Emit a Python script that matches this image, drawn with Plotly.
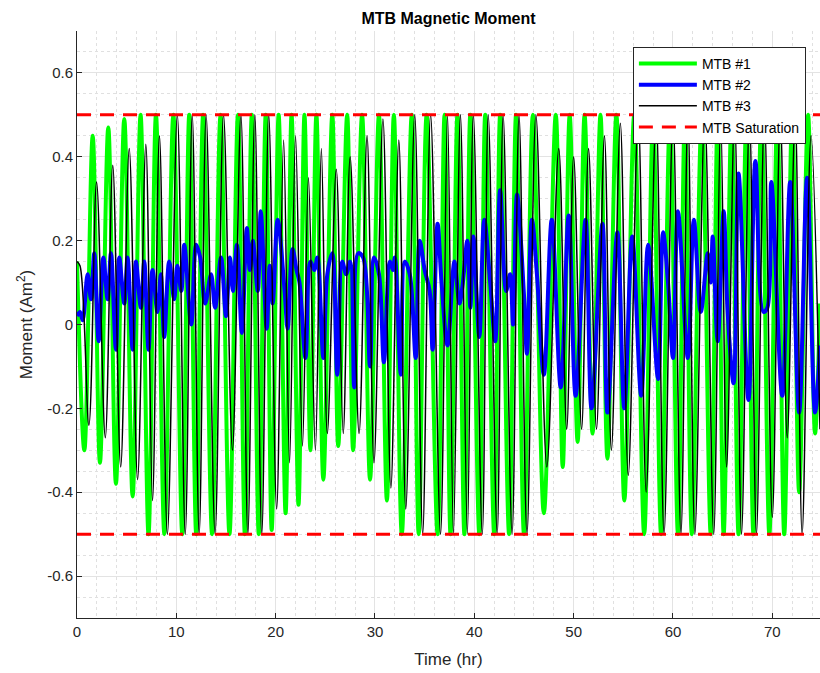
import plotly.graph_objects as go

# ---------------- data ----------------
green_t = [0.0, 0.74, 1.58, 2.31, 3.15, 3.92, 4.76, 5.6, 6.4, 7.2, 7.95, 8.8, 9.7, 10.6, 11.3,
           12.0, 12.7, 13.6, 14.45, 15.35, 16.2, 16.9, 17.6, 18.3, 19.0, 19.6, 20.3, 21.0, 21.6,
           22.3, 22.9, 23.5, 24.1, 24.8, 25.7, 26.3, 27.2, 27.8, 28.7, 29.5, 30.4, 31.2, 31.9, 32.7,
           33.7, 34.4, 35.2, 36.3, 37.0, 37.6, 38.3, 39.0, 39.6, 40.5, 41.1, 42.0, 42.6, 43.5, 44.2,
           45.0, 45.9, 47.0, 48.2, 48.9, 49.6, 50.4, 51.1, 51.9, 52.7, 53.4, 54.3, 55.1, 56.1, 57.1,
           58.0, 58.8, 59.7, 60.5, 61.2, 61.9, 62.9, 63.8, 64.5, 65.1, 65.9, 66.6, 67.4, 68.1, 68.9,
           69.7, 70.5, 71.2, 72.0, 72.7, 73.6, 74.3, 74.8]
green_m = [0.15, -0.30, 0.45, -0.33, 0.47, -0.38, 0.49, -0.41, 0.50, -0.50, 0.50, -0.50, 0.50,
           -0.50, 0.50, -0.50, 0.50, -0.50, 0.50, -0.50, 0.50, -0.50, 0.50, -0.50, 0.50, -0.49,
           0.50, -0.45, 0.50, -0.43, 0.50, -0.30, 0.50, -0.37, 0.50, -0.29, 0.50, -0.30, 0.50, -0.37,
           0.50, -0.42, 0.50, -0.50, 0.50, -0.50, 0.50, -0.50, 0.50, -0.50, 0.50, -0.50, 0.50, -0.50,
           0.50, -0.50, 0.50, -0.50, 0.50, -0.50, 0.50, -0.45, 0.50, -0.34, 0.50, -0.28, 0.50, -0.26,
           0.50, -0.32, 0.50, -0.42, 0.50, -0.50, 0.50, -0.50, 0.50, -0.50, 0.50, -0.50, 0.50, -0.50,
           0.50, -0.50, 0.50, -0.50, 0.50, -0.50, 0.50, -0.50, 0.50, -0.50, 0.50, -0.40, 0.50, -0.26,
           0.05]

blue_t = [0.0, 0.3, 0.57, 1.07, 1.41, 1.74, 2.18, 2.65, 3.08, 3.42, 3.92, 4.25, 4.76, 5.09, 5.6, 5.93,
          6.43, 6.77, 7.2, 7.6, 8.1, 8.44, 8.78, 9.28, 9.78, 10.1, 10.5, 10.8, 11.5, 12.0, 12.4, 12.9,
          13.5, 13.9, 14.5, 15.0, 15.4, 15.7, 16.1, 16.6, 17.1, 17.4, 17.7, 18.2, 18.5, 19.1, 19.4,
          19.7, 20.2, 20.9, 21.2, 21.7, 22.1, 22.4, 23.0, 23.5, 23.9, 24.2, 24.8, 25.2, 25.7, 26.2,
          26.7, 27.1, 27.5, 27.9, 28.3, 28.8, 29.5, 29.9, 30.4, 30.9, 31.5, 31.8, 32.0, 32.6, 33.0,
          33.5, 34.1, 34.5, 35.0, 35.5, 35.8, 36.3, 36.7, 37.3, 38.0, 38.5, 38.8, 39.3, 39.6, 39.9,
          40.5, 41.0, 41.6, 42.1, 42.6, 43.2, 43.6, 43.9, 44.3, 45.0, 45.3, 45.8, 46.3, 47.0, 47.8,
          48.7, 49.5, 50.2, 51.2, 51.8, 52.9, 53.4, 54.4, 55.1, 55.9, 56.8, 57.5, 58.5, 59.0, 59.5,
          60.0, 60.5, 61.5, 62.1, 62.8, 63.5, 63.8, 64.0, 64.5, 65.1, 65.5, 66.1, 66.6, 67.6, 68.3,
          69.1, 69.5, 69.9, 71.0, 71.8, 72.7, 73.5, 74.3, 74.8]
blue_m = [0.02, 0.03, 0.01, 0.12, 0.06, 0.17, -0.04, 0.16, 0.06, 0.17, -0.06, 0.16, 0.05, 0.16, -0.06,
          0.15, 0.04, 0.15, -0.06, 0.13, 0.03, 0.12, -0.03, 0.15, 0.06, 0.14, 0.08, 0.19, 0.00, 0.19,
          0.16, 0.05, 0.12, 0.04, 0.16, 0.02, 0.16, 0.08, 0.19, -0.02, 0.23, 0.13, 0.20, 0.08, 0.27,
          -0.01, 0.14, 0.05, 0.25, 0.08, -0.01, 0.18, 0.13, 0.10, -0.08, 0.15, 0.13, 0.16, -0.08, 0.12,
          0.17, -0.12, 0.15, 0.12, 0.15, -0.15, 0.17, 0.16, -0.10, 0.16, 0.12, -0.09, 0.15, 0.13, 0.16,
          -0.12, 0.15, 0.12, -0.08, 0.20, 0.13, 0.08, -0.06, 0.24, 0.10, -0.05, 0.15, 0.05, 0.09, 0.20,
          0.04, 0.21, -0.03, 0.25, 0.10, -0.04, 0.32, 0.08, 0.12, 0.00, 0.31, 0.07, -0.07, 0.25, 0.12,
          -0.12, 0.25, -0.15, 0.26, -0.17, 0.25, -0.20, 0.24, -0.21, 0.22, -0.20, 0.21, -0.17, 0.19,
          -0.13, 0.22, 0.10, -0.08, 0.27, -0.08, 0.25, 0.03, 0.17, 0.10, 0.21, -0.04, 0.27, 0.03, -0.14,
          0.36, -0.18, 0.39, 0.03, 0.04, 0.34, -0.17, 0.34, -0.21, 0.35, -0.21, -0.05]

black_t = [0.0, 0.3, 1.2, 1.97, 2.85, 3.6, 4.4, 5.26, 6.1, 6.93, 7.6, 8.3, 9.1, 10.1, 10.9, 11.6, 12.3,
           13.0, 13.9, 14.75, 15.65, 16.5, 17.2, 17.9, 18.6, 19.3, 20.1, 20.8, 21.4, 22.0, 22.7,
           23.3, 24.0, 24.6, 25.2, 26.1, 26.8, 27.5, 28.4, 29.2, 29.9, 30.8, 31.6, 32.4, 33.1, 34.0,
           34.8, 35.6, 36.6, 37.3, 37.9, 38.6, 39.3, 39.9, 40.8, 41.4, 42.3, 42.9, 43.8, 44.5, 45.3,
           46.2, 47.3, 48.5, 49.3, 50.0, 50.8, 51.5, 52.3, 53.1, 53.8, 54.7, 55.5, 56.5, 57.3, 58.3,
           59.1, 60.0, 60.8, 61.5, 62.2, 63.2, 64.1, 64.8, 65.4, 66.2, 66.9, 67.7, 68.4, 69.2, 70.0,
           70.8, 71.5, 72.3, 73.0, 73.9, 74.8]
black_m = [0.15, 0.14, -0.24, 0.34, -0.27, 0.38, -0.34, 0.42, -0.37, 0.43, -0.42, 0.45, -0.50, 0.50,
           -0.50, 0.50, -0.50, 0.50, -0.50, 0.50, -0.30, 0.50, -0.50, 0.50, -0.50, 0.50, -0.44,
           0.44, -0.33, 0.45, -0.29, 0.35, -0.30, 0.42, -0.26, 0.37, -0.26, 0.40, -0.26, 0.45, -0.33,
           0.49, -0.39, 0.44, -0.44, 0.50, -0.50, 0.50, -0.50, 0.50, -0.50, 0.50, -0.50, 0.50, -0.50,
           0.50, -0.50, 0.50, -0.50, 0.50, -0.50, 0.50, -0.34, 0.42, -0.25, 0.40, -0.25, 0.42, -0.25,
           0.45, -0.30, 0.48, -0.36, 0.50, -0.40, 0.50, -0.50, 0.50, -0.50, 0.50, -0.50, 0.50, -0.50,
           0.50, -0.34, 0.50, -0.50, 0.50, -0.50, 0.50, -0.46, 0.50, -0.27, 0.50, -0.50, 0.45, -0.25]

sat_t = [0.0, 74.8]
sat_level = 0.5

y_tickvals = [-0.6, -0.4, -0.2, 0, 0.2, 0.4, 0.6]
y_ticktext = ["-0.6", "-0.4", "-0.2", "0", "0.2", "0.4", "0.6"]
x_tickvals = [0, 10, 20, 30, 40, 50, 60, 70]

FONT = "Liberation Sans, Arial, Helvetica, sans-serif"
AX = "#262626"

fig = go.Figure()
fig.add_trace(go.Scatter(x=green_t, y=green_m, mode="lines", name="MTB #1",
                         line=dict(color="#00FF00", width=4, shape="spline", smoothing=1)))
fig.add_trace(go.Scatter(x=blue_t, y=blue_m, mode="lines", name="MTB #2",
                         line=dict(color="#0000FF", width=4, shape="spline", smoothing=1)))
fig.add_trace(go.Scatter(x=black_t, y=black_m, mode="lines", name="MTB #3",
                         line=dict(color="#000000", width=1.5, shape="spline", smoothing=1)))
fig.add_trace(go.Scatter(x=sat_t, y=[sat_level, sat_level], mode="lines", name="MTB Saturation",
                         legendgroup="sat",
                         line=dict(color="#FF0000", width=3, dash="14px,9px")))
fig.add_trace(go.Scatter(x=sat_t, y=[-sat_level, -sat_level], mode="lines", name="MTB Saturation",
                         legendgroup="sat", showlegend=False,
                         line=dict(color="#FF0000", width=3, dash="14px,9px")))

fig.update_layout(
    width=820, height=673,
    margin=dict(l=77, r=0, t=31, b=55),
    paper_bgcolor="white", plot_bgcolor="white",
    font=dict(family=FONT, color=AX, size=15),
    title=dict(text="<b>MTB Magnetic Moment</b>", x=0.5, xref="paper", y=1 - 18 / 673,
               yanchor="middle", font=dict(size=16, color="black", family=FONT)),
    showlegend=True,
    legend=dict(x=0.981, y=0.973, xanchor="right", yanchor="top",
                bgcolor="white", bordercolor=AX, borderwidth=1,
                font=dict(size=14, color="black", family=FONT),
                tracegroupgap=0, itemwidth=58),
)
fig.update_xaxes(
    range=[0, 74.8], tickvals=x_tickvals, ticks="inside", ticklen=5, tickcolor=AX,
    showline=True, linecolor=AX, linewidth=1, mirror=False,
    showgrid=True, gridcolor="#e3e3e3", gridwidth=1, zeroline=False,
    minor=dict(dtick=2, tick0=0, showgrid=True, gridcolor="#e0e0e0", griddash="dot", gridwidth=1),
    title=dict(text="Time (hr)", font=dict(size=17, family=FONT, color=AX), standoff=14),
    tickfont=dict(size=15, family=FONT, color=AX),
)
fig.update_yaxes(
    range=[-0.7, 0.7], tickvals=y_tickvals, ticktext=y_ticktext, ticks="inside", ticklen=5,
    tickcolor=AX, showline=True, linecolor=AX, linewidth=1, mirror=False,
    showgrid=True, gridcolor="#e3e3e3", gridwidth=1, zeroline=False,
    minor=dict(dtick=0.05, tick0=0, showgrid=True, gridcolor="#e0e0e0", griddash="dot", gridwidth=1),
    title=dict(text="Moment (Am<sup>2</sup>)", font=dict(size=17, family=FONT, color=AX), standoff=10),
    tickfont=dict(size=15, family=FONT, color=AX),
)

fig.write_html("out.html")
